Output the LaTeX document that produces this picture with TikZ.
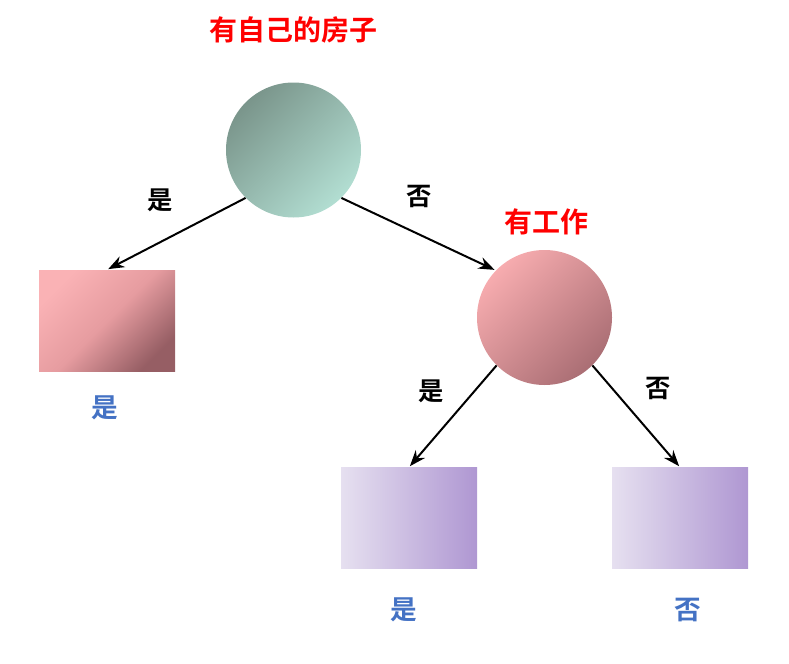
\documentclass[tikz,border=0pt]{standalone}
\usepackage{fontspec}
\newfontfamily\cjk{Noto Sans CJK SC}
\newfontfamily\cjkb{Noto Sans CJK SC Bold}
\usetikzlibrary{arrows.meta}
\definecolor{redtxt}{HTML}{FF0000}
\definecolor{bluetxt}{HTML}{4472C4}
\definecolor{tealdark}{RGB}{122,149,139}
\definecolor{teallight}{RGB}{178,222,210}
\definecolor{pinklight}{RGB}{247,172,175}
\definecolor{pinkdark}{RGB}{170,110,116}
\definecolor{rosel}{RGB}{250,178,181}
\definecolor{rosem}{RGB}{230,156,160}
\definecolor{rosed}{RGB}{150,94,100}
\definecolor{purl}{RGB}{230,224,240}
\definecolor{purd}{RGB}{175,151,210}
\tikzset{
  circnode/.style={circle, draw=none, inner sep=0pt, minimum size=101.25pt},
  rectnode/.style={rectangle, draw=none, inner sep=0pt, minimum width=102pt, minimum height=75.75pt},
  redlabel/.style={font=\cjkb\fontsize{21pt}{24pt}\selectfont, text=redtxt},
  bluelabel/.style={font=\cjkb\fontsize{20pt}{24pt}\selectfont, text=bluetxt},
  edgelabel/.style={font=\cjkb\fontsize{19pt}{22pt}\selectfont, text=black},
  diag/.style 2 args={top color=#1, bottom color=#2, shading angle=45},
  arrowline/.style={line width=1.5pt, -{Stealth[length=12pt,width=9pt]}, shorten >=1pt}
}
\begin{document}
\begin{tikzpicture}[x=0.75pt,y=-0.75pt]
\useasboundingbox (0,0) rectangle (789,664);
% nodes
\node[circnode, diag={tealdark}{teallight}] (c1) at (293.5,150) {};
\node[circnode, diag={pinklight}{pinkdark}] (c2) at (544.5,317.5) {};
\node[rectnode, top color=rosel, bottom color=rosed, middle color=rosem, shading angle=45] (r1) at (107,320.5) {};
\node[rectnode, left color=purl, right color=purd] (r2) at (409,518) {};
\node[rectnode, left color=purl, right color=purd] (r3) at (680,518) {};
% labels
\node[redlabel] (t1) at (293,30) {有自己的房子};
\node[redlabel] (t2) at (546,222) {有工作};
\node[edgelabel] (e1) at (160,200) {是};
\node[edgelabel] (e2) at (419,196) {否};
\node[edgelabel] (e3) at (431,391) {是};
\node[edgelabel] (e4) at (658,388) {否};
\node[bluelabel] (b1) at (105,408) {是};
\node[bluelabel] (b2) at (404,610) {是};
\node[bluelabel] (b3) at (688,610) {否};
% connectors
\draw[arrowline] (c1.225) -- (r1.north);
\draw[arrowline] (c1.315) -- (c2.136);
\draw[arrowline] (c2.225) -- (r2.north);
\draw[arrowline] (c2.315) -- (r3.north);
\end{tikzpicture}
\end{document}
